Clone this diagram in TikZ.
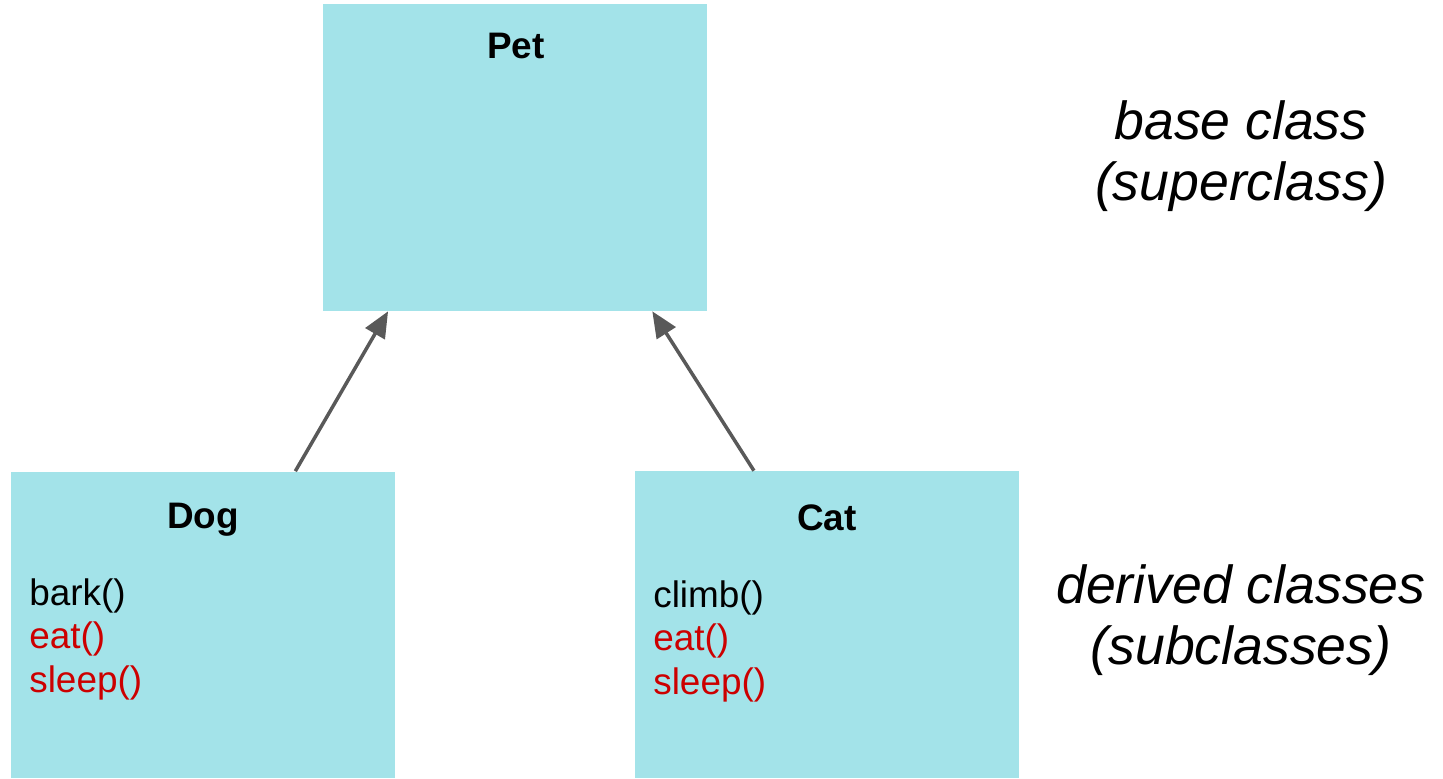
\documentclass[tikz,border=0pt]{standalone}
\usepackage{fontspec}
\setmainfont{Liberation Sans}
\usepackage{xcolor}
\usetikzlibrary{calc}
\usetikzlibrary{arrows.meta}
\definecolor{boxcyan}{HTML}{A3E3E9}
\definecolor{methodred}{HTML}{CC0000}
\definecolor{arrowgrey}{HTML}{595959}
\tikzset{
    class box/.style={shape=rectangle,fill=boxcyan,inner sep=0,minimum width=7.68cm,minimum height=6.14cm},
    class name/.style={anchor=base,font=\fontsize{21}{24.4}\selectfont\bfseries,inner sep=0},
    methods/.style={anchor=base west,align=left,font=\fontsize{21}{24.6}\selectfont,inner sep=0},
    side note/.style={anchor=base,align=center,font=\fontsize{30.5}{34.7}\selectfont\itshape,inner sep=0},
    inherits/.style={-{Triangle[length=0.52cm,width=0.44cm]},draw=arrowgrey,line width=2pt}
}

\begin{document}
\begin{tikzpicture}[x=0.02cm,y=-0.02cm]
    \useasboundingbox (0,0) rectangle (1443,778);
    % the three classes
    \node(pet)[class box] at (515,157.5) {};
    \node(dog)[class box] at (203,625) {};
    \node(cat)[class box] at (827,624.5) {};
    \node(pet-name)[class name] at (516,58) {Pet};
    \node(dog-name)[class name] at (203,528) {Dog};
    \node(cat-name)[class name] at (827,530) {Cat};
    % base anchor sits on the last line
    \node(dog-methods)[methods] at (29,692) {bark()\\ \textcolor{methodred}{eat()}\\ \textcolor{methodred}{sleep()}};
    \node(cat-methods)[methods] at (653,694) {climb()\\ \textcolor{methodred}{eat()}\\ \textcolor{methodred}{sleep()}};
    % notes on the right
    \node(base-note)[side note] at (1241,200) {base class\\(superclass)};
    \node(derived-note)[side note] at (1241,664) {derived classes\\(subclasses)};
    % subclass -> superclass
    \draw[inherits] ($(dog.north west)!0.74!(dog.north east)$) -- ($(pet.south west)!0.17!(pet.south east)$);
    \draw[inherits] ($(cat.north west)!0.31!(cat.north east)$) -- ($(pet.south west)!0.857!(pet.south east)$);
\end{tikzpicture}
\end{document}
